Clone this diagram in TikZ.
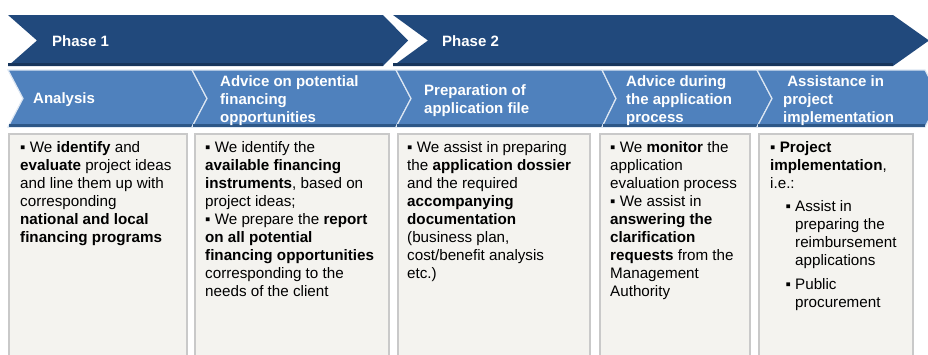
\documentclass[tikz,border=0pt]{standalone}
\usepackage{fontspec}
\setmainfont{Liberation Sans}
\usetikzlibrary{calc}
\definecolor{phaseblue}{HTML}{21497C}
\definecolor{phasedark}{HTML}{17355C}
\definecolor{stepblue}{HTML}{4F81BD}
\definecolor{stepdark}{HTML}{2D5787}
\definecolor{boxfill}{HTML}{F4F3EF}
\definecolor{boxline}{HTML}{C9C9C9}
\tikzstyle{phasearrow}=[fill=phaseblue]
\tikzstyle{steparrow}=[fill=stepblue,draw=white!80!stepblue,line width=1.2pt]
\tikzstyle{bottomedge}=[line width=3pt]
\tikzstyle{textbox}=[fill=boxfill,draw=boxline,line width=1.5pt]
\tikzstyle{headtext}=[anchor=west,align=left,inner sep=0pt,text=white,font=\fontsize{15}{18}\selectfont\bfseries]
\tikzstyle{bodytext}=[anchor=north west,align=left,inner sep=0pt,font=\fontsize{15.2}{18}\selectfont]

\begin{document}
\begin{tikzpicture}[x=1pt,y=-1pt]
    \useasboundingbox (0,0) rectangle (928,354);
    \clip (0,0) rectangle (928,354);
    % First we draw the two phase arrows
    \foreach \xl/\xn/\xr/\xt in {8/37/383/408, 393/428/893/929}{
        \path[phasearrow] (\xl,15) -- (\xr,15) -- (\xt,40.5) -- (\xr,66) -- (\xl,66) -- (\xn,40.5) -- cycle;
        \draw[bottomedge,phasedark] (\xl,64.5) -- (\xr,64.5);
    }
    % Then the five steps below them
    \foreach \xl/\xn/\xr/\xt in {8/23/192/207, 192/207/396/411, 396/411/602/616, 602/616/757/772, 757/772/925/940}{
        \path[steparrow] (\xl,70) -- (\xr,70) -- (\xt,98.5) -- (\xr,127) -- (\xl,127) -- (\xn,98.5) -- cycle;
        \draw[bottomedge,stepdark] (\xl+1,125) -- (\xr,125);
    }
    % The boxes under the steps
    \foreach \xl/\xr in {9/187, 195/389, 398/590, 600/750, 759/913}
        \path[textbox] (\xl,134) rectangle (\xr,362);

    % Labels of phases and steps
    \foreach \pos/\name/\label in {{(52,41)/phaseone/Phase 1}, {(442,41)/phasetwo/Phase 2},
    {(33,100)/analysis/Analysis}, {(220,100.5)/potential/Advice on potential\\financing\\opportunities},
    {(424,100.5)/preparation/Preparation of\\application file},
    {(626,100.5)/during/Advice during\\the application\\process},
    {(783,100.5)/assistance/\ Assistance in\\project\\implementation}}
        \node[headtext] (\name) at \pos {\label};

    % Text in the boxes
    \node[bodytext] (txtanalysis) at (20,139.5) {\strut▪ We \textbf{identify} and\\\textbf{evaluate} project ideas\\and line them up with\\corresponding\\\textbf{national and local}\\\textbf{financing programs}};
    \node[bodytext] (txtpotential) at (205,139.5) {\strut▪ We identify the\\\textbf{available financing}\\\textbf{instruments}, based on\\project ideas;\\▪ We prepare the \textbf{report}\\\textbf{on all potential}\\\textbf{financing opportunities}\\corresponding to the\\needs of the client};
    \node[bodytext] (txtpreparation) at (407,139.5) {\strut▪ We assist in preparing\\the \textbf{application dossier}\\and the required\\\textbf{accompanying}\\\textbf{documentation}\\(business plan,\\cost/benefit analysis\\etc.)};
    \node[bodytext] (txtduring) at (610,139.5) {\strut▪ We \textbf{monitor} the\\application\\evaluation process\\▪ We assist in\\\textbf{answering the}\\\textbf{clarification}\\\textbf{requests} from the\\Management\\Authority};
    \node[bodytext] (txtassistance) at (770,139.5) {\strut\textbf{▪ Project}\\\textbf{implementation},\\i.e.:};
    \node[bodytext] (subone) at (795,198.5) {\strut\llap{▪ }Assist in\\preparing the\\reimbursement\\applications};
    \node[bodytext] (subtwo) at (795,276.5) {\strut\llap{▪ }Public\\procurement};
\end{tikzpicture}
\end{document}
